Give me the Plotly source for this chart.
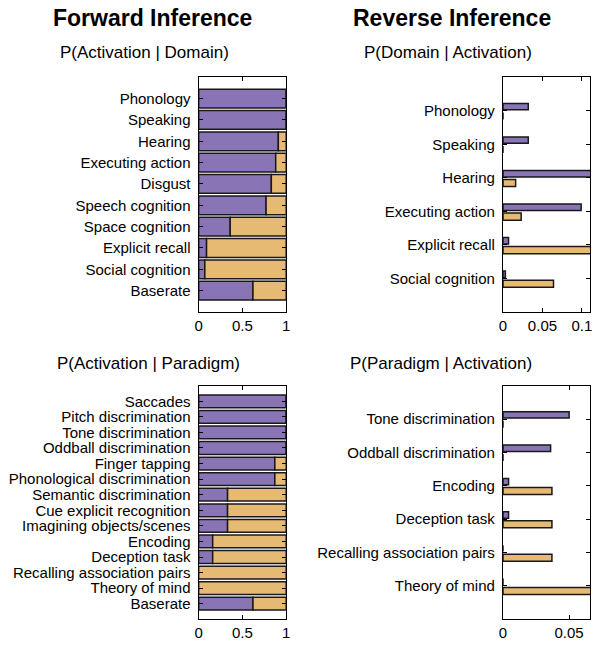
import plotly.graph_objects as go

# ---------------- data ----------------
fwd_domain_labels = ["Phonology", "Speaking", "Hearing", "Executing action", "Disgust",
                     "Speech cognition", "Space cognition", "Explicit recall",
                     "Social cognition", "Baserate"]
fwd_domain_act = [1.0, 1.0, 0.91, 0.88, 0.83, 0.77, 0.36, 0.09, 0.07, 0.62]
fwd_domain_nonact = [0.0, 0.0, 0.09, 0.12, 0.17, 0.23, 0.64, 0.91, 0.93, 0.38]

rev_domain_labels = ["Phonology", "Speaking", "Hearing", "Executing action",
                     "Explicit recall", "Social cognition"]
rev_domain_act = [0.032, 0.032, 0.12, 0.099, 0.007, 0.003]
rev_domain_nonact = [0.0, 0.0, 0.016, 0.023, 0.13, 0.064]

fwd_paradigm_labels = ["Saccades", "Pitch discrimination", "Tone discrimination",
                       "Oddball discrimination", "Finger tapping",
                       "Phonological discrimination", "Semantic discrimination",
                       "Cue explicit recognition", "Imagining objects/scenes",
                       "Encoding", "Deception task", "Recalling association pairs",
                       "Theory of mind", "Baserate"]
fwd_paradigm_act = [1.0, 1.0, 1.0, 1.0, 0.87, 0.87, 0.33, 0.33, 0.33, 0.16, 0.16, 0.0, 0.0, 0.62]
fwd_paradigm_nonact = [0.0, 0.0, 0.0, 0.0, 0.13, 0.13, 0.67, 0.67, 0.67, 0.84, 0.84, 1.0, 1.0, 0.38]

rev_paradigm_labels = ["Tone discrimination", "Oddball discrimination", "Encoding",
                       "Deception task", "Recalling association pairs", "Theory of mind"]
rev_paradigm_act = [0.05, 0.036, 0.0042, 0.0042, 0.0, 0.0]
rev_paradigm_nonact = [0.0, 0.0, 0.037, 0.037, 0.037, 0.075]

x_ticks_fwd = [0, 0.5, 1]
x_ticklabels_fwd = ["0", "0.5", "1"]
x_ticks_rev_domain = [0, 0.05, 0.1]
x_ticklabels_rev_domain = ["0", "0.05", "0.1"]
x_ticks_rev_paradigm = [0, 0.05]
x_ticklabels_rev_paradigm = ["0", "0.05"]

# ---------------- style ----------------
PURPLE = "rgb(137,117,182)"
TAN = "rgb(231,186,116)"
EDGE = "rgb(25,25,25)"
FONT = "Arial, Liberation Sans, sans-serif"
W, H = 604, 648

fig = go.Figure()

def stacked(labels, act, nonact, ax, width):
    xa, ya = ("x" + ax, "y" + ax)
    fig.add_trace(go.Bar(y=labels, x=act, orientation="h", width=width,
                         marker=dict(color=PURPLE, line=dict(color=EDGE, width=1.5)),
                         xaxis=xa, yaxis=ya, showlegend=False))
    fig.add_trace(go.Bar(y=labels, x=nonact, base=act, orientation="h", width=width,
                         marker=dict(color=TAN, line=dict(color=EDGE, width=1.5)),
                         xaxis=xa, yaxis=ya, showlegend=False))

def grouped(labels, act, nonact, ax):
    xa, ya = ("x" + ax, "y" + ax)
    fig.add_trace(go.Bar(y=labels, x=act, orientation="h", width=0.19, offset=-0.22,
                         marker=dict(color=PURPLE, line=dict(color=EDGE, width=1.5)),
                         xaxis=xa, yaxis=ya, showlegend=False))
    fig.add_trace(go.Bar(y=labels, x=nonact, orientation="h", width=0.21, offset=0.05,
                         marker=dict(color=TAN, line=dict(color=EDGE, width=1.5)),
                         xaxis=xa, yaxis=ya, showlegend=False))

stacked(fwd_domain_labels, fwd_domain_act, fwd_domain_nonact, "", 0.88)
grouped(rev_domain_labels, rev_domain_act, rev_domain_nonact, "2")
stacked(fwd_paradigm_labels, fwd_paradigm_act, fwd_paradigm_nonact, "3", 0.82)
grouped(rev_paradigm_labels, rev_paradigm_act, rev_paradigm_nonact, "4")

xl, xr = 197.3, 286.0
rl, rr = 505.7, 594.0
top_t, top_b = 77.3, 312.0
bot_t, bot_b = 385.7, 619.3

def xdom(a, b):
    return [a / W, b / W]

def ydom(t, b):
    return [1 - b / H, 1 - t / H]

axis_common = dict(showline=True, linecolor="black", linewidth=1.3, mirror="ticks",
                   ticks="inside", tickcolor="black", ticklen=4, tickwidth=1,
                   showgrid=False, zeroline=False,
                   tickfont=dict(family=FONT, size=15, color="black"))

def xaxis(dom, rng, tv, tt, anchor):
    return dict(axis_common, domain=dom, range=rng, tickvals=tv, ticktext=tt,
                anchor=anchor, fixedrange=True)

def yaxis(dom, labels, anchor):
    n = len(labels)
    return dict(axis_common, domain=dom, type="category", range=[n, -1],
                autorange=False, anchor=anchor, ticklabelstandoff=4,
                tickmode="array", tickvals=labels, ticktext=labels, fixedrange=True)

fig.update_layout(
    width=W, height=H, barmode="overlay",
    margin=dict(l=0, r=0, t=0, b=0),
    paper_bgcolor="white", plot_bgcolor="white",
    hovermode=False,
    xaxis=xaxis(xdom(xl, xr), [0, 1], x_ticks_fwd, x_ticklabels_fwd, "y"),
    yaxis=yaxis(ydom(top_t, top_b), fwd_domain_labels, "x"),
    xaxis2=xaxis(xdom(rl, rr), [0, 0.1104], x_ticks_rev_domain, x_ticklabels_rev_domain, "y2"),
    yaxis2=yaxis(ydom(top_t, top_b), rev_domain_labels, "x2"),
    xaxis3=xaxis(xdom(xl, xr), [0, 1], x_ticks_fwd, x_ticklabels_fwd, "y3"),
    yaxis3=yaxis(ydom(bot_t, bot_b), fwd_paradigm_labels, "x3"),
    xaxis4=xaxis(xdom(rl, rr), [0, 0.0659], x_ticks_rev_paradigm, x_ticklabels_rev_paradigm, "y4"),
    yaxis4=yaxis(ydom(bot_t, bot_b), rev_paradigm_labels, "x4"),
)

def ann(text, x, y, size, bold=False, xanchor="center"):
    fig.add_annotation(text=("<b>%s</b>" % text) if bold else text,
                       x=x / W, y=1 - y / H, xref="paper", yref="paper",
                       xanchor=xanchor, yanchor="middle", showarrow=False,
                       font=dict(family=FONT, size=size, color="black"))

ann("Forward Inference", 150, 18, 23, bold=True)
ann("Reverse Inference", 454.5, 18, 23, bold=True)
ann("P(Activation | Domain)", 54.3, 52, 17, xanchor="left")
ann("P(Domain | Activation)", 363.3, 52, 17, xanchor="left")
ann("P(Activation | Paradigm)", 51.7, 363, 17, xanchor="left")
ann("P(Paradigm | Activation)", 349, 363, 17, xanchor="left")

fig.write_html("out.html", config={"displayModeBar": False},
               post_script="document.body.style.margin='0';")
